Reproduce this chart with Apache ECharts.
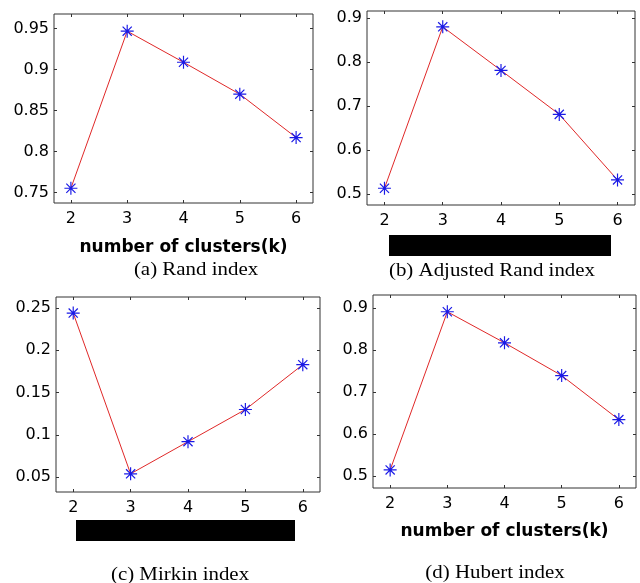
<!DOCTYPE html>
<html>
<head>
<meta charset="utf-8">
<script src="https://cdn.jsdelivr.net/npm/echarts@6/dist/echarts.min.js"></script>
<style>
  html, body { margin: 0; padding: 0; background: #fff; }
  #chart { width: 640px; height: 583px; }
</style>
</head>
<body>
<div id="chart"></div>
<script>
const clusters = [2, 3, 4, 5, 6]

const randIndex = [0.755, 0.947, 0.909, 0.870, 0.817]
const adjRandIndex = [0.513, 0.880, 0.781, 0.681, 0.532]
const mirkinIndex = [0.244, 0.054, 0.092, 0.130, 0.183]
const hubertIndex = [0.514, 0.891, 0.817, 0.739, 0.634]

const randTicks = [0.75, 0.8, 0.85, 0.9, 0.95]
const adjRandTicks = [0.5, 0.6, 0.7, 0.8, 0.9]
const mirkinTicks = [0.05, 0.1, 0.15, 0.2, 0.25]
const hubertTicks = [0.5, 0.6, 0.7, 0.8, 0.9]

const captions = ['(a) Rand index', '(b) Adjusted Rand index', '(c) Mirkin index', '(d) Hubert index']
const xName = 'number of clusters(k)'

// asterisk marker like matlab '*'
const star = 'path://M9.1 0L10.9 0L10.9 20L9.1 20Z M0 9.1L20 9.1L20 10.9L0 10.9Z M2.3 3.6L3.6 2.3L17.7 16.4L16.4 17.7Z M16.4 2.3L17.7 3.6L3.6 17.7L2.3 16.4Z'

const panels = [
  { grid: { left: 54, top: 14, width: 259, height: 189 }, y: [0.737, 0.968], ticks: randTicks, data: randIndex, name: true, nameGap: 36 },
  { grid: { left: 367, top: 11, width: 268, height: 194 }, y: [0.475, 0.916], ticks: adjRandTicks, data: adjRandIndex, name: false },
  { grid: { left: 56, top: 297, width: 264, height: 195 }, y: [0.0325, 0.263], ticks: mirkinTicks, data: mirkinIndex, name: false },
  { grid: { left: 373, top: 295, width: 263, height: 193 }, y: [0.471, 0.931], ticks: hubertTicks, data: hubertIndex, name: true, nameGap: 35 }
]

const labelFont = { fontFamily: 'DejaVu Sans', fontSize: 16, color: '#000' }
const boxColor = '#333'

const grid = []
const xAxis = []
const yAxis = []
const series = []

panels.forEach((p, i) => {
  grid.push({ ...p.grid, show: true, borderColor: boxColor, borderWidth: 1, backgroundColor: '#fff' })

  // bottom + top x axes
  ;['bottom', 'top'].forEach(pos => {
    xAxis.push({
      type: 'value',
      gridIndex: i,
      position: pos,
      min: 1.7,
      max: 6.3,
      splitLine: { show: false },
      axisLine: { show: false },
      axisTick: { show: true, inside: true, length: 3, customValues: clusters, lineStyle: { color: boxColor } },
      axisLabel: pos === 'bottom'
        ? { show: true, margin: 8, customValues: clusters, ...labelFont }
        : { show: false },
      name: pos === 'bottom' && p.name ? xName : '',
      nameLocation: 'middle',
      nameGap: p.nameGap || 36,
      nameTextStyle: { fontFamily: 'DejaVu Sans', fontWeight: 'bold', fontSize: 17, color: '#000' }
    })
  })

  // left + right y axes
  ;['left', 'right'].forEach(pos => {
    yAxis.push({
      type: 'value',
      gridIndex: i,
      position: pos,
      min: p.y[0],
      max: p.y[1],
      splitLine: { show: false },
      axisLine: { show: false },
      axisTick: { show: true, inside: true, length: 3, customValues: p.ticks, lineStyle: { color: boxColor } },
      axisLabel: pos === 'left'
        ? { show: true, margin: 5, customValues: p.ticks, ...labelFont }
        : { show: false }
    })
  })

  series.push({
    type: 'line',
    xAxisIndex: i * 2,
    yAxisIndex: i * 2,
    data: clusters.map((c, k) => [c, p.data[k]]),
    symbol: star,
    symbolSize: 13,
    showAllSymbol: true,
    lineStyle: { color: '#e02828', width: 1 },
    itemStyle: { color: '#1a1ae6' },
    animation: false,
    z: 3
  })
})

const capStyle = { fontFamily: 'Liberation Serif', fontSize: 18.5, fill: '#000' }

const myChart = echarts.init(document.getElementById('chart'), null, { renderer: 'canvas' })

myChart.setOption({
  animation: false,
  grid,
  xAxis,
  yAxis,
  series,
  graphic: [
    { type: 'text', x: 196, y: 270, scaleX: 1.13, style: { text: captions[0], ...capStyle, align: 'center', verticalAlign: 'middle' } },
    { type: 'text', x: 492, y: 271, scaleX: 1.13, style: { text: captions[1], ...capStyle, align: 'center', verticalAlign: 'middle' } },
    { type: 'text', x: 180, y: 575, scaleX: 1.13, style: { text: captions[2], ...capStyle, align: 'center', verticalAlign: 'middle' } },
    { type: 'text', x: 495, y: 573, scaleX: 1.13, style: { text: captions[3], ...capStyle, align: 'center', verticalAlign: 'middle' } },
    // blacked-out axis labels
    { type: 'rect', shape: { x: 389, y: 235, width: 222, height: 21 }, style: { fill: '#000' } },
    { type: 'rect', shape: { x: 76, y: 520, width: 219, height: 21 }, style: { fill: '#000' } }
  ]
})
</script>
</body>
</html>
